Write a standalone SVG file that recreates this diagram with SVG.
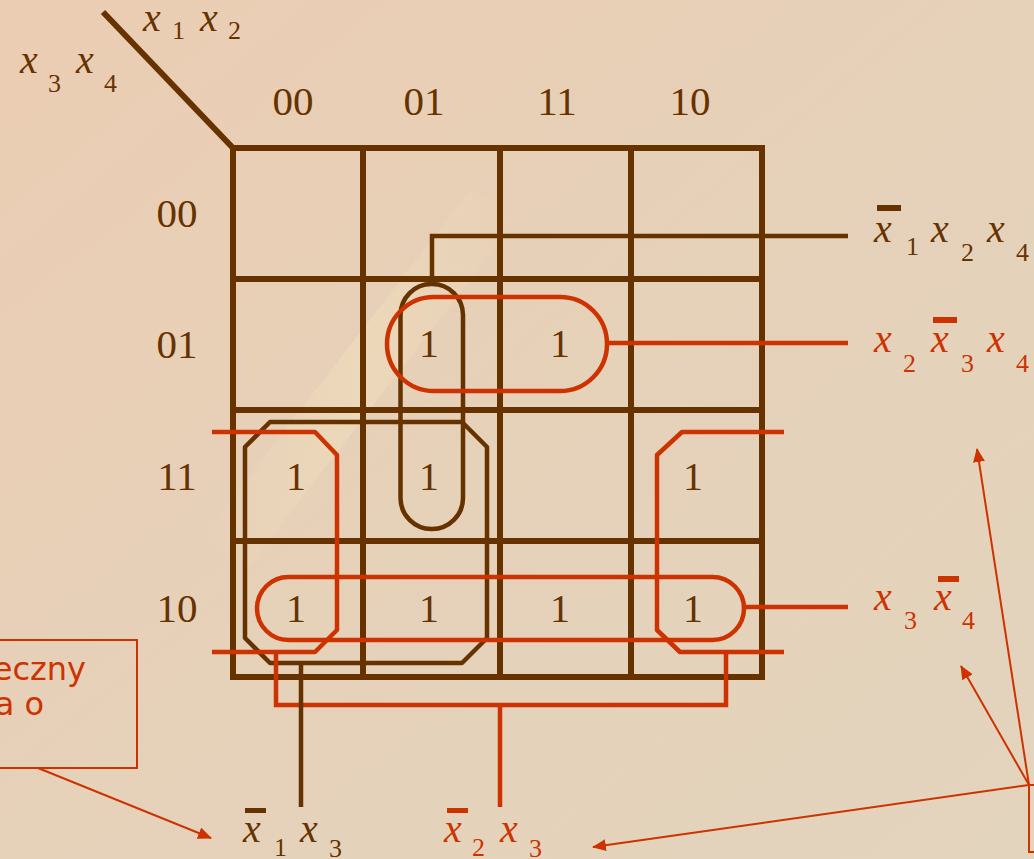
<svg xmlns="http://www.w3.org/2000/svg" width="1034" height="859" viewBox="0 0 1034 859">
<defs>
<linearGradient id="bg" x1="0" y1="0" x2="1" y2="1">
<stop offset="0" stop-color="#EBCDB3"/>
<stop offset="0.5" stop-color="#E6D1B9"/>
<stop offset="1" stop-color="#E3D4BD"/>
</linearGradient>
<linearGradient id="streak" x1="0" y1="0" x2="1" y2="0">
<stop offset="0" stop-color="#FFF4C0" stop-opacity="0"/>
<stop offset="0.5" stop-color="#FFF4C0" stop-opacity="0.22"/>
<stop offset="1" stop-color="#FFF4C0" stop-opacity="0"/>
</linearGradient>
<marker id="ah" viewBox="0 0 14 12" refX="13" refY="6" markerWidth="14" markerHeight="12" markerUnits="userSpaceOnUse" orient="auto">
<path d="M0,0 L14,6 L0,12 z" fill="#CC3300"/>
</marker>
<style>
.grid{fill:none;stroke:#663300;stroke-width:6}
.br{fill:none;stroke:#663300;stroke-width:4.5}
.rd{fill:none;stroke:#CC3300;stroke-width:4.5}
.thin{fill:none;stroke:#CC3300;stroke-width:2}
.num{font-family:"Liberation Serif",serif;font-size:40px;fill:#663300}
.hd{font-family:"Liberation Serif",serif;font-size:41px;fill:#663300}
.vx{font-family:"Liberation Serif",serif;font-style:italic;font-size:40px}
.sb{font-family:"Liberation Serif",serif;font-size:26px}
.bfill{fill:#663300}
.rfill{fill:#CC3300}
.note{font-family:"DejaVu Sans",Verdana,sans-serif;font-size:32px;fill:#CC3300}
</style>
</defs>
<rect width="1034" height="859" fill="url(#bg)"/>
<path d="M200,540 L470,190 L520,215 L250,565 z" fill="url(#streak)"/>

<g id="karnaugh-grid">
<line x1="103" y1="12" x2="233" y2="148" class="grid"/>
<rect x="233" y="148" width="529" height="529" class="grid"/>
<line x1="363" y1="148" x2="363" y2="677" class="grid"/>
<line x1="500" y1="148" x2="500" y2="677" class="grid"/>
<line x1="631" y1="148" x2="631" y2="677" class="grid"/>
<line x1="233" y1="279" x2="762" y2="279" class="grid"/>
<line x1="233" y1="410" x2="762" y2="410" class="grid"/>
<line x1="233" y1="541" x2="762" y2="541" class="grid"/>
</g>

<g id="axis-labels">
<text x="143" y="31" class="vx bfill">x</text><text x="172" y="39" class="sb bfill">1</text>
<text x="200" y="31" class="vx bfill">x</text><text x="228" y="39" class="sb bfill">2</text>
<text x="20" y="73" class="vx bfill">x</text><text x="48" y="92" class="sb bfill">3</text>
<text x="76" y="73" class="vx bfill">x</text><text x="104" y="92" class="sb bfill">4</text>
<text x="293" y="115" class="hd" text-anchor="middle">00</text>
<text x="424" y="115" class="hd" text-anchor="middle">01</text>
<text x="557" y="115" class="hd" text-anchor="middle">11</text>
<text x="690" y="115" class="hd" text-anchor="middle">10</text>
<text x="177" y="227" class="hd" text-anchor="middle">00</text>
<text x="177" y="358" class="hd" text-anchor="middle">01</text>
<text x="177" y="490" class="hd" text-anchor="middle">11</text>
<text x="177" y="622" class="hd" text-anchor="middle">10</text>
</g>

<g id="cell-values">
<text x="429" y="357" class="num" text-anchor="middle">1</text>
<text x="560" y="357" class="num" text-anchor="middle">1</text>
<text x="296" y="490" class="num" text-anchor="middle">1</text>
<text x="429" y="490" class="num" text-anchor="middle">1</text>
<text x="693" y="490" class="num" text-anchor="middle">1</text>
<text x="296" y="622" class="num" text-anchor="middle">1</text>
<text x="429" y="622" class="num" text-anchor="middle">1</text>
<text x="560" y="622" class="num" text-anchor="middle">1</text>
<text x="693" y="622" class="num" text-anchor="middle">1</text>
</g>

<g id="group-x1n-x2-x4">
<rect x="400.5" y="284" width="62.5" height="245" rx="31" class="br"/>
</g>
<g id="group-x2-x3n-x4">
<rect x="387" y="297" width="220" height="94" rx="47" class="rd"/>
</g>
<g id="group-x1n-x3">
<polygon points="270,422 462,422 487,447 487,638 462,663 270,663 245,638 245,447" class="br" stroke-linejoin="round"/>
</g>
<g id="group-x3-x4n">
<rect x="257" y="577" width="487" height="63" rx="31.5" class="rd"/>
</g>
<g id="group-x2n-x3">
<polyline points="212,432 315,432 337,455 337,630 315,652 212,652" class="rd" stroke-linejoin="round"/>
<polyline points="784,432 682,432 657,455 657,630 680,652 784,652" class="rd" stroke-linejoin="round"/>
</g>

<g id="connectors">
<polyline points="432,284 432,236 848,236" class="br" stroke-width="4"/>
<line x1="607" y1="343" x2="848" y2="343" class="rd"/>
<line x1="744" y1="607" x2="848" y2="607" class="rd"/>
<polyline points="276,652 276,705 726,705 726,652" class="rd"/>
<line x1="500" y1="705" x2="500" y2="807" class="rd"/>
<line x1="301" y1="663" x2="301" y2="807" class="br"/>
<line x1="38" y1="768" x2="211" y2="838" class="thin" marker-end="url(#ah)"/>
<line x1="1029" y1="785" x2="977" y2="449" class="thin" marker-end="url(#ah)"/>
<line x1="1029" y1="785" x2="961" y2="666" class="thin" marker-end="url(#ah)"/>
<line x1="1029" y1="785" x2="593" y2="847" class="thin" marker-end="url(#ah)"/>
</g>

<g id="term-x1n-x2-x4">
<rect x="877" y="205" width="24" height="6" class="bfill"/>
<text x="874" y="242" class="vx bfill">x</text><text x="906" y="255" class="sb bfill">1</text>
<text x="931" y="242" class="vx bfill">x</text><text x="961" y="261" class="sb bfill">2</text>
<text x="987" y="242" class="vx bfill">x</text><text x="1016" y="261" class="sb bfill">4</text>
</g>
<g id="term-x2-x3n-x4">
<rect x="933" y="317" width="24" height="6" class="rfill"/>
<text x="874" y="352" class="vx rfill">x</text><text x="903" y="372" class="sb rfill">2</text>
<text x="931" y="352" class="vx rfill">x</text><text x="961" y="372" class="sb rfill">3</text>
<text x="987" y="352" class="vx rfill">x</text><text x="1016" y="372" class="sb rfill">4</text>
</g>
<g id="term-x3-x4n">
<rect x="938" y="576" width="21" height="6" class="rfill"/>
<text x="874" y="610" class="vx rfill">x</text><text x="904" y="629" class="sb rfill">3</text>
<text x="934" y="610" class="vx rfill">x</text><text x="962" y="629" class="sb rfill">4</text>
</g>
<g id="term-x1n-x3">
<rect x="245" y="808" width="21" height="5" class="bfill"/>
<text x="243" y="842" class="vx bfill">x</text><text x="274" y="856" class="sb bfill">1</text>
<text x="300" y="842" class="vx bfill">x</text><text x="329" y="857" class="sb bfill">3</text>
</g>
<g id="term-x2n-x3">
<rect x="447" y="808" width="21" height="5" class="rfill"/>
<text x="444" y="842" class="vx rfill">x</text><text x="472" y="856" class="sb rfill">2</text>
<text x="500" y="842" class="vx rfill">x</text><text x="529" y="857" class="sb rfill">3</text>
</g>

<g id="note-left">
<rect x="-20" y="640" width="157" height="128" fill="none" stroke="#CC3300" stroke-width="2"/>
<text x="86" y="680" class="note" text-anchor="end">eczny</text>
<text x="44" y="715" class="note" text-anchor="end">a o</text>
</g>
<g id="note-right">
<rect x="1029" y="785" width="30" height="67" fill="none" stroke="#CC3300" stroke-width="2"/>
</g>
</svg>
